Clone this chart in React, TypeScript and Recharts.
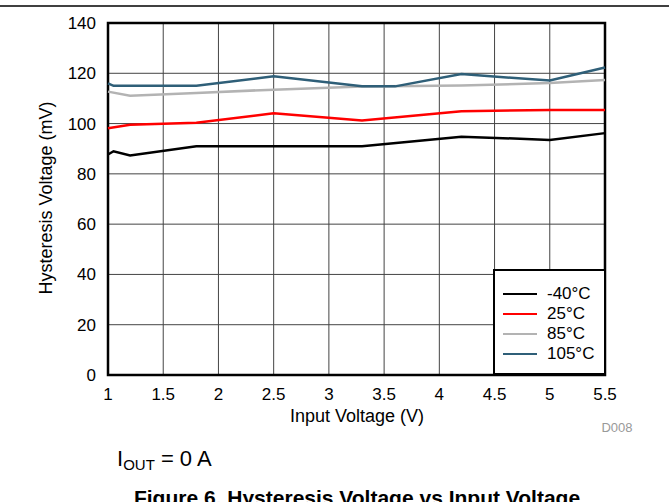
import React from "react";
import {
  LineChart,
  Line,
  XAxis,
  YAxis,
  CartesianGrid,
  ReferenceArea,
} from "recharts";

// readings per temperature, input voltage (V) -> hysteresis (mV)
const vinMinus40 = [1, 1.05, 1.2, 1.8, 2.5, 3.3, 4.2, 5, 5.5];
const hystMinus40 = [87.7, 89, 87.3, 91, 91, 91, 94.8, 93.5, 96.2];

const vin25 = [1, 1.2, 1.8, 2.5, 3.3, 4.2, 5, 5.5];
const hyst25 = [98.1, 99.5, 100.3, 104.1, 101.2, 104.9, 105.4, 105.4];

const vin85 = [1, 1.2, 1.8, 2.5, 3.3, 4.2, 5, 5.5];
const hyst85 = [112.7, 111.1, 112.2, 113.5, 114.7, 115.1, 116.1, 117.3];

const vin105 = [1, 1.05, 1.8, 2.5, 3.3, 3.6, 4.2, 5, 5.5];
const hyst105 = [116, 115, 115, 118.8, 114.8, 114.8, 119.7, 117.1, 122.3];

const xTicks = [1, 1.5, 2, 2.5, 3, 3.5, 4, 4.5, 5, 5.5];
const yTicks = [0, 20, 40, 60, 80, 100, 120, 140];

const series = [
  { name: "-40°C", color: "#000000", x: vinMinus40, y: hystMinus40 },
  { name: "25°C", color: "#ff0000", x: vin25, y: hyst25 },
  { name: "85°C", color: "#b3b3b3", x: vin85, y: hyst85 },
  { name: "105°C", color: "#2f5f78", x: vin105, y: hyst105 },
];

const FONT = "'Liberation Sans', Arial, sans-serif";

// legend sits inside the plot's lower-right corner, drawn as an overlay
function LegendBox() {
  return (
    <div
      style={{
        position: "absolute",
        left: 493,
        top: 269,
        width: 113,
        height: 106,
        border: "2px solid #000",
        background: "#fff",
        boxSizing: "border-box",
        paddingTop: 13,
        fontFamily: FONT,
      }}
    >
      {series.map((s) => (
        <div key={s.name} style={{ display: "flex", alignItems: "center", height: 20 }}>
          <div style={{ width: 34, height: 2.5, background: s.color, marginLeft: 8 }} />
          <span style={{ marginLeft: 10, fontSize: 17, color: "#000", lineHeight: "20px" }}>{s.name}</span>
        </div>
      ))}
    </div>
  );
}

export default function App() {
  const fmt = (v: number) => String(v);
  return (
    <div style={{ position: "absolute", left: 0, top: 0, width: 669, height: 502, background: "#fff", overflow: "hidden" }}>
      <LineChart
        width={669}
        height={502}
        margin={{ top: 23, right: 64, bottom: 97, left: 68 }}
        style={{ fontFamily: FONT }}
      >
        <CartesianGrid stroke="#444" strokeWidth={1} vertical horizontal />
        <XAxis
          type="number"
          dataKey="x"
          domain={[1, 5.5]}
          ticks={xTicks}
          tickFormatter={fmt}
          tick={{ fill: "#000", fontSize: 17, fontFamily: FONT }}
          axisLine={false}
          tickLine={false}
          height={30}
          tickMargin={7}
          allowDuplicatedCategory={false}
        />
        <YAxis
          type="number"
          domain={[0, 140]}
          ticks={yTicks}
          tick={{ fill: "#000", fontSize: 17, fontFamily: FONT }}
          axisLine={false}
          tickLine={false}
          width={40}
          tickMargin={6}
        />
        {series.map((s) => (
          <Line
            key={s.name}
            data={s.x.map((x, i) => ({ x, y: s.y[i] }))}
            dataKey="y"
            name={s.name}
            type="linear"
            stroke={s.color}
            strokeWidth={2.5}
            dot={false}
            isAnimationActive={false}
          />
        ))}
        <ReferenceArea
          x1={1}
          x2={5.5}
          y1={0}
          y2={140}
          fill="none"
          fillOpacity={0}
          stroke="#000"
          strokeWidth={2.5}
          ifOverflow="visible"
        />
      </LineChart>
      <LegendBox />
      <svg
        width={669}
        height={502}
        style={{ position: "absolute", left: 0, top: 0, pointerEvents: "none", fontFamily: FONT }}
      >
        <line x1={0} y1={6} x2={669} y2={6} stroke="#000" strokeWidth={1.5} />
        <text x={52} y={198} transform="rotate(-90 52 198)" textAnchor="middle" fontSize={18} fill="#000">
          Hysteresis Voltage (mV)
        </text>
        <text x={357} y={422} textAnchor="middle" fontSize={18} fill="#000">
          Input Voltage (V)
        </text>
        <text x={617} y={432} textAnchor="middle" fontSize={13} fill="#999">
          D008
        </text>
        <text x={117} y={466} fontSize={22} fill="#000">
          I
          <tspan fontSize={15} dy={4}>OUT</tspan>
          <tspan dy={-4}> = 0 A</tspan>
        </text>
        <text x={357} y={505} textAnchor="middle" fontSize={21} fontWeight="bold" fill="#000">
          Figure 6. Hysteresis Voltage vs Input Voltage
        </text>
      </svg>
    </div>
  );
}
